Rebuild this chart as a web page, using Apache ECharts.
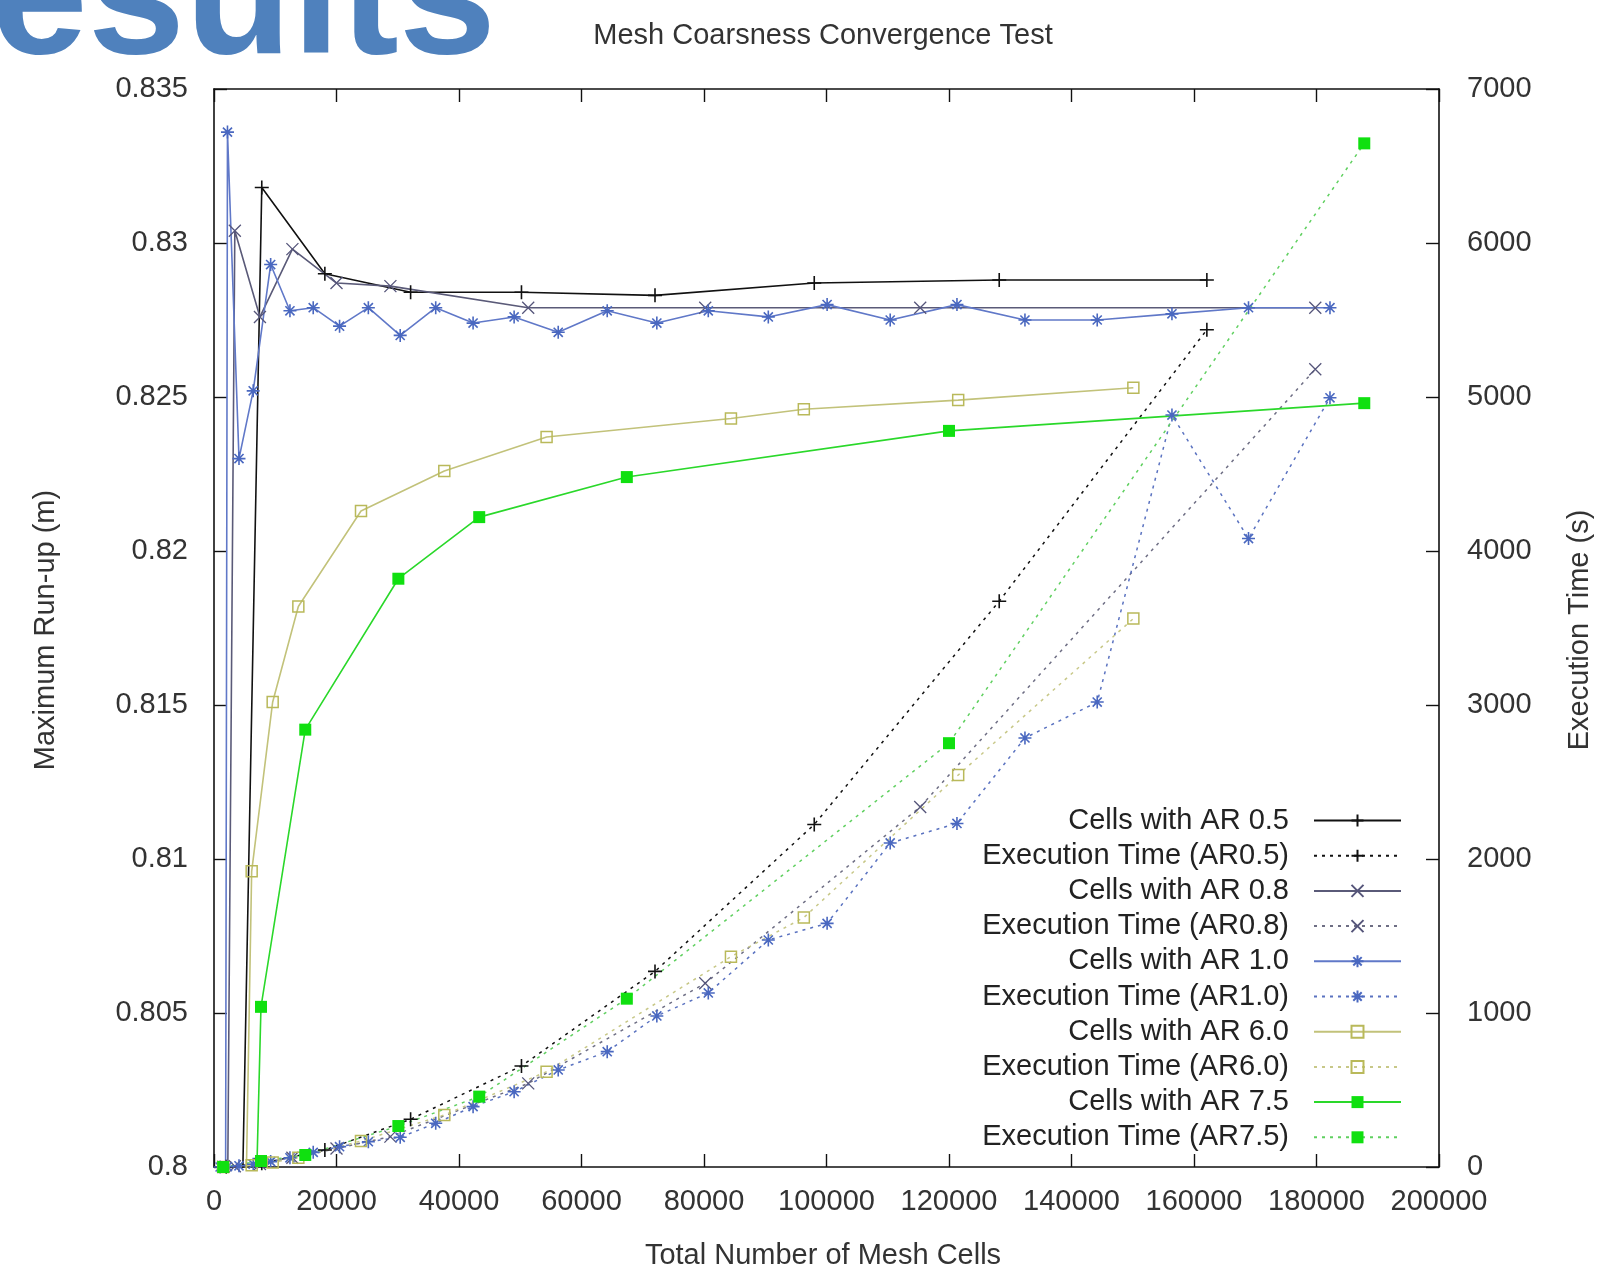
<!DOCTYPE html>
<html><head><meta charset="utf-8">
<script src="https://cdn.jsdelivr.net/npm/echarts@6/dist/echarts.min.js"></script>
<style>html,body{margin:0;padding:0;background:#fff}#chart{width:1614px;height:1267px}</style>
</head><body><div id="chart"></div>
<script>
// ---- tick labels ----
const xTicks = [0, 20000, 40000, 60000, 80000, 100000, 120000, 140000, 160000, 180000, 200000];
const runupTicks = [0.8, 0.805, 0.81, 0.815, 0.82, 0.825, 0.83, 0.835];
const timeTicks = [0, 1000, 2000, 3000, 4000, 5000, 6000, 7000];

// ---- AR 0.5 ----
const cellsAR05 = [2000, 7800, 18100, 32100, 50200, 72000, 98000, 128200, 162100];
const runupAR05 = [0.772, 0.8318, 0.8290, 0.8284, 0.8284, 0.8283, 0.8287, 0.8288, 0.8288];
const timeAR05  = [2, 24, 110, 310, 656, 1270, 2224, 3674, 5437];
// ---- AR 0.8 ----
const cellsAR08 = [1500, 3400, 7500, 12800, 20000, 28800, 51300, 80200, 115300, 179800];
const runupAR08 = [0.780, 0.8304, 0.8276, 0.8298, 0.8287, 0.8286, 0.8279, 0.8279, 0.8279, 0.8279];
const timeAR08  = [1, 5, 20, 60, 120, 197, 543, 1193, 2338, 5180];
// ---- AR 1.0 ----
const cellsAR10 = [1000, 2200, 4080, 6400, 9250, 12400, 16200, 20500, 25200, 30400, 36200, 42300, 49000,
                   56200, 64200, 72300, 80700, 90500, 100100, 110400, 121300, 132400, 144200, 156400, 168900, 182200];
const runupAR10 = [0.700, 0.8336, 0.8230, 0.8252, 0.8293, 0.8278, 0.8279, 0.8273, 0.8279, 0.8270, 0.8279, 0.8274, 0.8276,
                   0.8271, 0.8278, 0.8274, 0.8278, 0.8276, 0.8280, 0.8275, 0.8280, 0.8275, 0.8275, 0.8277, 0.8279, 0.8279];
const timeAR10  = [0, 3, 8, 18, 35, 60, 95, 132, 164, 193, 284, 392, 489,
                   630, 749, 981, 1130, 1474, 1582, 2104, 2231, 2786, 3019, 4883, 4081, 4995];
// ---- AR 6.0 ----
const cellsAR60 = [1500, 6150, 9580, 13770, 24000, 37600, 54300, 84400, 96300, 121500, 150100];
const runupAR60 = [0.757, 0.8096, 0.8151, 0.8182, 0.8213, 0.8226, 0.8237, 0.8243, 0.8246, 0.8249, 0.8253];
const timeAR60  = [0, 12, 30, 60, 169, 338, 619, 1366, 1620, 2545, 3561];
// ---- AR 7.5 ----
const cellsAR75 = [1500, 7670, 14900, 30100, 43300, 67400, 120000, 187800];
const runupAR75 = [0.757, 0.8052, 0.8142, 0.8191, 0.8211, 0.8224, 0.8239, 0.8248];
const timeAR75  = [0, 39, 78, 266, 457, 1093, 2752, 6647];

const FONT = 'Liberation Sans';
const PLUS = 'path://M0,5L10,5M5,0L5,10';
const CROSS = 'path://M0,0L10,10M10,0L0,10';
const STAR = 'path://M0,5L10,5M5,0L5,10M1.5,1.5L8.5,8.5M8.5,1.5L1.5,8.5';
const DOTS = [3, 5];

function pairs(xs, ys) { return xs.map((x, i) => [x, ys[i]]); }

function mk(name, xs, ys, axis, cfg) {
  const dotted = axis === 1;
  const item = cfg.filled
    ? { color: cfg.mark, borderWidth: 0 }
    : { color: 'rgba(0,0,0,0)', borderColor: cfg.mark, borderWidth: cfg.bw || 1.6 };
  return {
    name: name, type: 'line', xAxisIndex: 0, yAxisIndex: axis,
    data: pairs(xs, ys), clip: true, animation: false,
    symbol: cfg.symbol, symbolSize: cfg.size, showAllSymbol: true,
    lineStyle: { color: dotted ? cfg.dline : cfg.line, width: dotted ? 1.5 : 1.6, type: dotted ? DOTS : 'solid' },
    itemStyle: item,
    emphasis: { disabled: true }
  };
}

const C05 = { symbol: PLUS, size: 14, mark: '#111', line: '#111', dline: '#111' };
const C08 = { symbol: CROSS, size: 12, mark: '#55557a', line: '#5a5a78', dline: '#6e6e84', bw: 1.3 };
const C10 = { symbol: STAR, size: 13, mark: '#4a68c0', line: '#6078c8', dline: '#5a72c0' };
const C60 = { symbol: 'rect', size: 11, mark: '#b9b95a', line: '#c2c27a', dline: '#c8c888', bw: 1.5 };
const C75 = { symbol: 'rect', size: 12, mark: '#10e010', line: '#2ad82a', dline: '#60d060', filled: true };

const series = [
  mk('Cells with AR 0.5', cellsAR05, runupAR05, 0, C05),
  mk('Execution Time (AR0.5)', cellsAR05, timeAR05, 1, C05),
  mk('Cells with AR 0.8', cellsAR08, runupAR08, 0, C08),
  mk('Execution Time (AR0.8)', cellsAR08, timeAR08, 1, C08),
  mk('Cells with AR 1.0', cellsAR10, runupAR10, 0, C10),
  mk('Execution Time (AR1.0)', cellsAR10, timeAR10, 1, C10),
  mk('Cells with AR 6.0', cellsAR60, runupAR60, 0, C60),
  mk('Execution Time (AR6.0)', cellsAR60, timeAR60, 1, C60),
  mk('Cells with AR 7.5', cellsAR75, runupAR75, 0, C75),
  mk('Execution Time (AR7.5)', cellsAR75, timeAR75, 1, C75)
];

const axisLine = { show: true, onZero: false, lineStyle: { color: '#111', width: 1.6 } };
const tick = { show: true, inside: true, length: 13, lineStyle: { color: '#111', width: 1.4 } };
const lbl = { color: '#333', fontSize: 29, fontFamily: FONT };

const option = {
  backgroundColor: '#fff',
  animation: false,
  textStyle: { fontFamily: FONT },
  grid: { left: 214, right: 175, top: 89, bottom: 100, containLabel: false, outerBoundsMode: 'none' },
  xAxis: [
    { type: 'value', position: 'bottom', min: xTicks[0], max: xTicks[xTicks.length - 1], interval: xTicks[1] - xTicks[0],
      axisLine: axisLine, axisTick: tick, splitLine: { show: false },
      axisLabel: Object.assign({ margin: 20, formatter: v => String(v) }, lbl) },
    { type: 'value', position: 'top', min: xTicks[0], max: xTicks[xTicks.length - 1], interval: xTicks[1] - xTicks[0],
      axisLine: axisLine, axisTick: tick, splitLine: { show: false }, axisLabel: { show: false } }
  ],
  yAxis: [
    { type: 'value', position: 'left', min: runupTicks[0], max: runupTicks[runupTicks.length - 1],
      interval: +(runupTicks[1] - runupTicks[0]).toFixed(3),
      axisLine: axisLine, axisTick: tick, splitLine: { show: false },
      axisLabel: Object.assign({ margin: 26, formatter: v => String(+v.toFixed(3)) }, lbl) },
    { type: 'value', position: 'right', min: timeTicks[0], max: timeTicks[timeTicks.length - 1], interval: timeTicks[1] - timeTicks[0],
      axisLine: axisLine, axisTick: tick, splitLine: { show: false },
      axisLabel: Object.assign({ margin: 28, formatter: v => String(v) }, lbl) }
  ],
  legend: {
    orient: 'vertical', align: 'right', right: 212, top: 806, padding: 0,
    itemWidth: 87, itemHeight: 15, itemGap: 6.2, selectedMode: false,
    textStyle: { fontSize: 29, color: '#222', fontFamily: FONT, lineHeight: 29, padding: [0, 20, 0, 0] },
    data: series.map(s => s.name)
  },
  graphic: [
    { type: 'text', x: -136, y: 5, z: 10,
      style: { text: 'Results', font: 'bold 175px "Liberation Sans"', fill: '#4f81bd', verticalAlign: 'middle' } },
    { type: 'text', x: 823, y: 36,
      style: { text: 'Mesh Coarsness Convergence Test', font: '29px "Liberation Sans"', fill: '#333', align: 'center', verticalAlign: 'middle' } },
    { type: 'text', x: 823, y: 1256,
      style: { text: 'Total Number of Mesh Cells', font: '29px "Liberation Sans"', fill: '#333', align: 'center', verticalAlign: 'middle' } },
    { type: 'text', x: 46, y: 630, rotation: Math.PI / 2,
      style: { text: 'Maximum Run-up (m)', font: '29px "Liberation Sans"', fill: '#333', align: 'center', verticalAlign: 'middle' } },
    { type: 'text', x: 1580, y: 630, rotation: Math.PI / 2,
      style: { text: 'Execution Time (s)', font: '29px "Liberation Sans"', fill: '#333', align: 'center', verticalAlign: 'middle' } }
  ],
  series: series
};

const chart = echarts.init(document.getElementById('chart'), null, { renderer: 'canvas' });
chart.setOption(option);
</script>
</body></html>
